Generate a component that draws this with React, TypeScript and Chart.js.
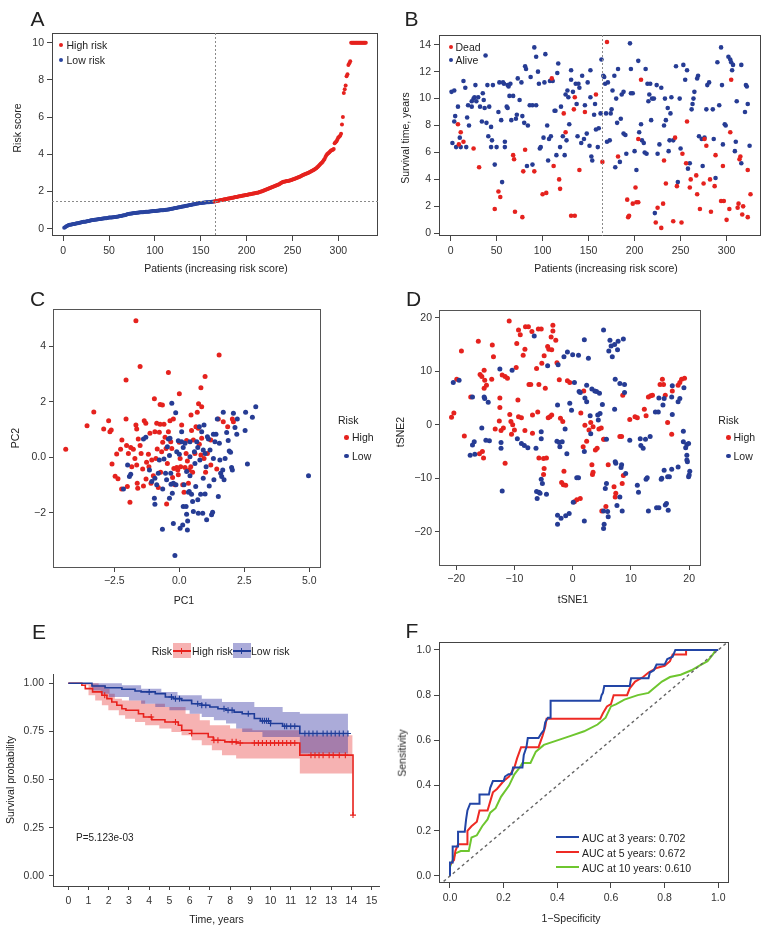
import React, { useEffect, useRef } from "react";
import { Chart, registerables } from "chart.js";
Chart.register(...registerables);

const FONT = "'Liberation Sans', Arial, Helvetica, sans-serif";
const TXT = "#333";
const AXIS = "#444";
const RED = "#E5221E";
const BLUE = "#263C94";

// ---------------- Panel A: risk score per patient (sorted) ----------------
const lowRiskScores = [
  0.05, 0.08, 0.12, 0.15, 0.18, 0.2, 0.21, 0.22, 0.23, 0.24,
  0.25, 0.26, 0.27, 0.28, 0.29, 0.3, 0.31, 0.32, 0.33, 0.35,
  0.36, 0.37, 0.38, 0.38, 0.39, 0.4, 0.41, 0.42, 0.43, 0.45,
  0.46, 0.47, 0.47, 0.48, 0.49, 0.5, 0.5, 0.51, 0.52, 0.53,
  0.53, 0.54, 0.55, 0.55, 0.56, 0.57, 0.57, 0.58, 0.59, 0.6,
  0.6, 0.61, 0.61, 0.62, 0.62, 0.63, 0.63, 0.64, 0.65, 0.66,
  0.67, 0.68, 0.69, 0.7, 0.71, 0.72, 0.73, 0.74, 0.76, 0.78,
  0.79, 0.8, 0.81, 0.82, 0.82, 0.83, 0.84, 0.85, 0.85, 0.86,
  0.86, 0.87, 0.87, 0.88, 0.88, 0.89, 0.89, 0.9, 0.9, 0.91,
  0.91, 0.92, 0.92, 0.93, 0.93, 0.94, 0.94, 0.95, 0.95, 0.96,
  0.96, 0.97, 0.97, 0.98, 0.98, 0.99, 0.99, 1.0, 1.0, 1.01,
  1.01, 1.02, 1.02, 1.03, 1.04, 1.05, 1.06, 1.07, 1.08, 1.09,
  1.1, 1.11, 1.12, 1.13, 1.14, 1.15, 1.16, 1.17, 1.18, 1.19,
  1.2, 1.21, 1.22, 1.23, 1.24, 1.25, 1.26, 1.27, 1.28, 1.29,
  1.3, 1.31, 1.32, 1.33, 1.34, 1.35, 1.36, 1.37, 1.38, 1.39,
  1.39, 1.4, 1.4, 1.41, 1.41, 1.42, 1.42, 1.43, 1.43, 1.44,
  1.44, 1.45, 1.45, 1.46,
];
const highRiskScores = [
  1.47, 1.48, 1.49, 1.5, 1.51, 1.52,
  1.53, 1.54, 1.55, 1.56, 1.57, 1.58, 1.59, 1.6, 1.61, 1.62,
  1.63, 1.64, 1.65, 1.66, 1.67, 1.68, 1.69, 1.7, 1.71, 1.72,
  1.73, 1.74, 1.75, 1.76, 1.77, 1.78, 1.79, 1.8, 1.81, 1.82,
  1.83, 1.84, 1.85, 1.86, 1.87, 1.88, 1.89, 1.9, 1.91, 1.92,
  1.93, 1.94, 1.95, 1.97, 1.99, 2.0, 2.02, 2.04, 2.06, 2.08,
  2.1, 2.12, 2.14, 2.16, 2.18, 2.2, 2.22, 2.24, 2.26, 2.28,
  2.3, 2.32, 2.34, 2.36, 2.38, 2.41, 2.44, 2.47, 2.5, 2.52,
  2.53, 2.54, 2.55, 2.56, 2.57, 2.58, 2.59, 2.6, 2.62, 2.64,
  2.66, 2.68, 2.7, 2.72, 2.74, 2.76, 2.78, 2.8, 2.82, 2.85,
  2.88, 2.9, 2.92, 2.94, 2.96, 2.98, 3.0, 3.02, 3.05, 3.08,
  3.1, 3.13, 3.16, 3.19, 3.22, 3.25, 3.3, 3.35, 3.4, 3.45,
  3.5, 3.55, 3.6, 3.68, 3.75, 3.85, 3.95, 4.02, 4.06, 4.1,
  4.15, 4.2, 4.22, 4.25, 4.28, 4.6, 4.65, 4.7, 4.8, 4.9,
  4.95, 5.0, 5.1, 5.6, 6.0, 7.3, 7.5, 7.7, 8.2, 8.3,
  8.8, 8.9, 9.0, 10, 10, 10,
  10, 10, 10, 10, 10, 10, 10, 10, 10, 10, 10, 10, 10, 10,
];
const riskCutoffPatient = 165;
const riskCutoffScore = 1.47;
const patientTicks = [0, 50, 100, 150, 200, 250, 300];
const riskTicks = [0, 2, 4, 6, 8, 10];

// ---------------- Panel B: survival time per patient ----------------
const alivePoints: [number, number][] = [
  [1, 10.5], [4, 10.6], [5, 8.7], [4, 8.3], [2, 6.7], [6, 6.4], [8, 9.4], [11, 6.4], [10, 7.1], [14, 11.3],
  [16, 10.8], [17, 6.4], [18, 8.6], [19, 9.5], [20, 8.0], [23, 9.4], [23, 9.8], [25, 10.0], [26, 10.1], [27, 11.0],
  [28, 9.8], [30, 10.1], [32, 9.4], [34, 8.3], [35, 10.4], [36, 9.9], [37, 9.3], [38, 13.2], [39, 8.2], [40, 11.0],
  [41, 7.2], [42, 9.4], [44, 6.4], [44, 7.9], [45, 6.9], [46, 11.0], [48, 5.1], [50, 6.4], [52, 9.0], [53, 11.2],
  [55, 8.4], [56, 3.8], [57, 11.2], [58, 11.1], [59, 6.4], [59, 6.8], [61, 9.4], [62, 11.0], [62, 9.3], [63, 10.9],
  [64, 10.2], [65, 11.1], [66, 8.4], [68, 10.2], [71, 8.5], [72, 8.8], [73, 11.5], [75, 9.9], [77, 11.2], [78, 8.7],
  [80, 8.2], [81, 12.4], [82, 12.2], [83, 5.0], [84, 8.0], [86, 9.5], [87, 11.6], [89, 9.5], [89, 5.1], [91, 13.8],
  [93, 13.1], [93, 9.5], [95, 12.0], [96, 11.1], [97, 6.3], [98, 6.4], [101, 7.1], [102, 11.2], [103, 13.3], [105, 8.0],
  [106, 5.4], [107, 7.0], [108, 11.3], [109, 7.2], [111, 11.3], [113, 9.1], [114, 9.1], [115, 5.8], [116, 11.9], [117, 12.6],
  [119, 6.4], [120, 9.4], [122, 7.2], [124, 5.8], [125, 10.3], [126, 6.9], [127, 10.6], [128, 10.1], [129, 8.1], [131, 11.4],
  [131, 12.1], [133, 10.5], [136, 11.1], [137, 9.6], [138, 7.2], [139, 11.1], [140, 10.8], [142, 6.7], [143, 11.7], [145, 7.0],
  [146, 9.5], [148, 7.4], [149, 11.2], [151, 6.5], [152, 10.1], [152, 12.1], [153, 5.7], [154, 5.4], [156, 8.8], [157, 9.6],
  [158, 7.7], [160, 6.4], [161, 7.8], [163, 8.9], [164, 12.9], [166, 11.7], [167, 11.6], [168, 11.1], [169, 8.9], [170, 6.8],
  [171, 11.2], [173, 6.9], [174, 8.9], [175, 9.2], [176, 10.6], [178, 11.7], [179, 4.9], [180, 10.0], [181, 8.2], [182, 12.2],
  [184, 5.3], [185, 8.5], [186, 10.3], [188, 7.4], [188, 10.5], [190, 7.3], [191, 5.9], [195, 14.1], [196, 12.2], [196, 10.4],
  [198, 10.4], [200, 6.1], [202, 4.7], [204, 12.8], [205, 7.5], [207, 8.1], [208, 6.9], [210, 6.7], [211, 6.0], [213, 5.9],
  [212, 12.2], [214, 11.1], [215, 9.8], [216, 10.3], [217, 11.1], [218, 8.4], [219, 10.0], [221, 10.0], [222, 1.5], [224, 11.0],
  [225, 5.9], [227, 6.6], [229, 10.8], [232, 8.0], [233, 10.0], [234, 8.4], [236, 9.3], [237, 6.1], [238, 6.9], [239, 8.9],
  [240, 10.1], [242, 6.9], [245, 12.4], [247, 3.8], [249, 10.0], [250, 6.3], [253, 12.5], [255, 11.4], [257, 12.1], [258, 4.8],
  [260, 5.2], [262, 9.2], [263, 9.6], [264, 10.0], [265, 10.5], [268, 11.5], [269, 11.7], [270, 7.2], [273, 7.0], [274, 5.0],
  [276, 7.1], [278, 9.2], [279, 11.0], [281, 11.2], [285, 9.2], [286, 7.0], [288, 4.1], [290, 12.7], [292, 9.5], [294, 13.8],
  [295, 11.0], [296, 6.6], [298, 8.1], [299, 8.0], [302, 13.1], [304, 12.9], [305, 12.7], [306, 12.1], [307, 12.5], [309, 6.1],
  [310, 6.8], [311, 9.8], [316, 12.5], [316, 5.2], [320, 9.0], [321, 11.0], [322, 10.9], [323, 9.6], [325, 6.5],
];
const deadPoints: [number, number][] = [
  [8, 8.1], [9, 6.6], [11, 7.5], [14, 6.8], [25, 6.3], [31, 4.9], [48, 1.8], [52, 3.1], [54, 2.7], [68, 5.8],
  [69, 5.5], [70, 1.6], [78, 1.2], [79, 4.6], [81, 6.2], [91, 4.6], [100, 2.9], [104, 3.0], [110, 11.5], [112, 5.0],
  [118, 4.0], [119, 3.3], [123, 8.9], [125, 7.5], [131, 1.3], [134, 9.2], [135, 1.3], [135, 10.1], [140, 4.7], [146, 9.0],
  [158, 10.3], [165, 5.3], [170, 14.2], [182, 5.7], [192, 2.5], [193, 1.2], [194, 1.3], [198, 2.2], [201, 3.4], [202, 2.3],
  [204, 2.3], [204, 7.0], [207, 11.4], [223, 0.8], [225, 1.9], [229, 0.4], [231, 2.2], [232, 5.4], [234, 3.7], [242, 0.9],
  [244, 7.1], [246, 3.5], [251, 0.8], [252, 5.9], [256, 5.2], [257, 8.3], [260, 3.4], [261, 4.0], [267, 4.3], [268, 2.9],
  [271, 1.8], [275, 3.7], [276, 7.0], [278, 6.5], [282, 4.0], [283, 1.6], [287, 3.5], [288, 5.8], [294, 2.4], [296, 5.0],
  [297, 2.4], [300, 1.0], [303, 1.8], [304, 7.5], [305, 11.4], [312, 1.9], [313, 2.2], [314, 5.5], [315, 5.7], [317, 1.4],
  [318, 2.0], [323, 1.2], [323, 4.7], [326, 2.9],
];
const survTimeTicks = [0, 2, 4, 6, 8, 10, 12, 14];

// ---------------- Panel C: PCA ----------------
const pcaHigh: [number, number][] = [
  [-1.67, 4.91], [1.53, 3.68], [-1.51, 3.26], [-0.42, 3.05], [0.99, 2.9], [-2.05, 2.78], [0.83, 2.5], [0, 2.28], [-0.96, 2.1], [-0.74, 1.9],
  [-0.65, 1.88], [0.74, 1.92], [0.86, 1.82], [-3.29, 1.63], [-4.37, 0.29], [-3.55, 1.13], [-2.72, 1.31], [-2.91, 1.02], [-2.67, 0.92], [-2.62, 0.98],
  [-2.05, 1.38], [-2.59, -0.24], [-2.47, -0.68], [-2.36, -0.77], [-2.26, 0.29], [-2.41, 0.12], [-2.21, 0.62], [-2.03, 0.42], [-1.96, 0.14], [-1.87, 0.35],
  [-1.77, 0.29], [-1.71, -0.04], [-1.83, -0.34], [-2.0, -1.05], [-1.9, -1.62], [-2.22, -1.14], [-1.64, -0.28], [-1.62, -0.93], [-1.6, -1.11], [-1.64, 1.02],
  [-1.67, 1.16], [-1.58, 0.66], [-1.51, 0.42], [-1.47, 0.14], [-1.41, -0.42], [-1.38, -1.03], [-1.35, 1.31], [-1.29, 1.22], [-1.28, -0.78], [-1.26, -0.18],
  [-1.19, 0.11], [-1.17, -0.34], [-1.13, 0.86], [-1.09, -0.93], [-1.06, -0.1], [-1.0, -0.66], [-0.94, 0.92], [-0.9, -0.04], [-0.87, 1.22], [-0.85, 0.3],
  [-0.81, -1.09], [-0.77, 0.9], [-0.74, 1.19], [-0.72, -0.54], [-0.68, 0.2], [-0.64, 0.54], [-0.59, 1.19], [-0.55, 0.72], [-0.51, 0.32], [-0.49, -1.68],
  [-0.46, -0.22], [-0.42, 0.92], [-0.36, 1.31], [-0.33, 0.56], [-0.29, 0.32], [-0.26, -0.73], [-0.23, 1.38], [-0.21, -0.4], [-0.17, -0.99], [-0.1, -0.37],
  [-0.06, -0.46], [-0.04, -0.63], [0, 0.54], [0.03, -0.04], [0.05, -0.34], [0.09, 1.16], [0.13, -0.99], [0.18, -1.26], [0.22, -0.37], [0.26, 0.14],
  [0.28, 0.6], [0.31, -0.13], [0.35, -0.93], [0.38, -0.46], [0.44, -0.34], [0.45, 1.52], [0.47, 0.96], [0.51, -0.54], [0.54, 0.62], [0.6, 0.14],
  [0.64, 1.1], [0.69, 1.62], [0.73, 1.04], [0.77, 0.47], [0.83, 0.08], [0.86, 0.68], [0.95, -0.04], [1.01, -0.54], [1.08, 0.14], [1.21, -0.28],
  [1.21, 0.62], [1.5, 1.38], [1.69, 1.28], [1.86, 1.1], [2.04, 1.38], [2.08, 1.28], [1.44, -0.42],
];
const pcaLow: [number, number][] = [
  [-0.29, 1.94], [-0.14, 1.6], [-1.38, 0.66], [-1.29, 0.72], [-0.94, -0.75], [-0.96, -1.47], [-0.94, -1.69], [-0.64, -1.14], [-0.65, -2.59], [-0.59, -0.06],
  [-0.53, -0.57], [-0.46, 0.38], [-0.42, 0.66], [-0.38, -1.47], [-0.36, 0.68], [-0.33, -0.57], [-0.32, -0.97], [-0.27, -1.29], [-0.23, -2.38], [-0.23, -0.93],
  [-0.17, -3.53], [-0.13, -0.99], [-0.1, 0.2], [-0.04, 0.59], [0, 0.11], [0.03, -2.55], [0.09, 0.92], [0.13, -2.43], [0.15, -1.77], [0.18, -0.99],
  [0.22, 0.5], [0.26, -1.77], [0.28, -2.05], [0.31, -2.61], [0.32, -2.29], [0.35, -1.26], [0.38, -1.23], [0.41, 0.02], [0.41, 0.56], [0.47, -1.33],
  [0.51, -1.59], [0.54, -1.95], [0.58, 0.2], [0.6, -0.22], [0.63, -1.05], [0.67, 0.56], [0.71, -1.53], [0.73, -2.01], [0.77, 1.1], [0.79, -0.1],
  [0.82, -1.33], [0.86, 0.92], [0.9, -2.01], [0.92, -0.75], [0.95, 1.16], [0.99, -1.32], [1.03, -0.34], [1.05, -2.25], [1.08, 0.74], [1.12, 0.66],
  [1.15, -1.03], [1.18, 0.26], [1.24, -2.07], [1.28, -1.98], [1.31, -0.04], [1.33, -0.81], [1.37, 0.56], [1.41, 0.83], [1.46, 1.38], [1.5, -1.41],
  [1.54, 0.5], [1.59, -0.57], [1.63, -0.69], [1.67, -0.46], [1.69, 1.62], [1.72, -0.81], [1.76, -0.04], [1.82, 0.89], [1.88, 0.6], [1.92, 0.23],
  [1.97, 0.18], [2.01, -0.37], [2.04, -0.46], [2.08, 1.58], [2.14, 1.07], [2.21, 0.83], [2.23, 1.38], [2.53, 0.96], [2.55, 1.62], [2.62, -0.24],
  [2.81, 1.44], [2.94, 1.82], [4.97, -0.66], [-1.15, -0.46], [-1.06, -0.87], [-0.87, -0.99], [-0.81, -0.57], [-0.77, -0.1], [-1.87, -0.61], [-1.92, -0.69],
  [-2.15, -1.14], [-1.99, -0.28], [-0.49, -0.81], [-0.38, 0.06], [0.09, 0.56], [0.15, 0.35], [0.28, -0.51], [0.41, -0.66], [0.71, 0.35], [0.92, 0.26],
  [0.99, 0.14], [1.31, 0.83], [1.56, -0.1],
];
const pc1Ticks = [-2.5, 0, 2.5, 5];
const pc2Ticks = [-2, 0, 2, 4];

// ---------------- Panel D: t-SNE ----------------
const tsneHigh: [number, number][] = [
  [-19.1, 13.8], [-20.8, 1.4], [-20.4, 2.2], [-19.9, 8.5], [-18.6, -2.1], [-17.5, 5.2], [-16.2, 15.6], [-15.9, 9.4], [-15.6, 9.0], [-15.2, 10.2],
  [-15.1, 8.3], [-15.2, 6.8], [-14.8, 7.4], [-15.5, -5.0], [-15.3, -6.2], [-16.0, -5.4], [-13.8, 14.9], [-13.6, 12.7], [-13.9, 8.5], [-13.3, -0.8],
  [-12.5, 5.0], [-12.5, 3.2], [-12.6, 0.7], [-12.3, -1.1], [-12.1, 9.3], [-11.9, -0.6], [-11.6, 9.0], [-11.6, -7.2], [-11.2, 8.7], [-10.9, 19.4],
  [-10.8, 1.9], [-10.6, 0.6], [-10.5, -1.8], [-10.3, 0.0], [-10.0, -1.0], [-9.7, 10.7], [-9.6, 15.2], [-9.4, 4.6], [-9.3, 17.7], [-9.0, 16.8],
  [-9.3, 1.5], [-8.8, 1.3], [-8.5, 13.0], [-8.2, 14.1], [-8.2, -1.1], [-8.1, 18.3], [-7.6, 18.3], [-7.5, 7.5], [-7.2, 7.5], [-7.0, 17.4],
  [-6.9, -1.6], [-6.9, 1.8], [-6.2, 10.5], [-6.0, 2.4], [-5.9, 17.9], [-5.8, 7.5], [-5.8, -6.2], [-5.4, 17.9], [-5.3, 11.5], [-5.0, -6.3],
  [-5.0, -9.3], [-4.9, -8.2], [-4.9, 12.9], [-4.7, 6.8], [-4.5, -6.2], [-4.3, 14.6], [-4.1, 14.1], [-4.2, 1.3], [-3.9, 1.5], [-3.7, 16.4],
  [-3.6, 1.8], [-3.4, 18.6], [-3.4, 17.5], [-3.6, 14.0], [-2.9, 15.8], [-2.7, 11.6], [-2.3, 8.4], [-2.1, 1.2], [-1.9, -10.8], [-1.7, 0.6],
  [-1.6, -11.2], [-1.5, -8.7], [-1.2, -11.3], [-0.9, 8.2], [-0.5, 7.9], [0.3, -14.4], [0.7, -14.0], [1.3, -13.8], [1.4, 2.2], [1.8, -4.1],
  [1.9, 6.3], [2.1, -0.1], [2.4, -3.1], [2.8, -1.0], [3.1, 0.4], [3.3, -7.5], [3.4, -9.3], [3.5, -8.9], [3.5, -0.4], [3.9, -4.7],
  [4.2, -4.4], [4.5, -0.8], [4.9, -0.6], [5.0, -16.1], [5.3, -2.7], [5.4, -2.7], [5.7, -15.3], [6.1, -7.5], [7.1, -11.6], [7.3, -13.5],
  [7.4, -12.8], [8.1, -2.2], [8.4, -2.2], [8.5, -11.0], [8.7, -9.5], [8.6, 5.5], [9.8, 1.0], [10.7, 1.5], [11.1, 1.3], [12.3, 2.9],
  [12.6, 1.7], [13.0, 5.2], [13.4, 5.4], [13.7, 5.5], [15.0, 7.5], [15.4, 8.5], [15.6, 7.5], [15.9, 5.5], [16.3, 0.4], [17.1, 6.3],
  [17.0, -1.8], [18.1, 7.4], [18.4, 7.9], [18.7, 8.5], [19.2, 8.7],
];
const tsneLow: [number, number][] = [
  [-20.5, 7.9], [-19.5, 8.3], [-17.2, 5.2], [-17.6, -5.7], [-16.9, -3.2], [-17.2, -3.8], [-16.8, -5.5], [-15.6, -0.6], [-15.2, 5.2], [-15.1, 4.9],
  [-14.9, -2.9], [-14.5, 4.2], [-14.3, -3.0], [-12.5, 10.4], [-12.3, -3.3], [-12.3, -4.4], [-12.1, -12.4], [-10.4, 10.2], [-9.5, -2.6], [-8.8, -3.5],
  [-8.3, -3.9], [-7.7, -4.3], [-6.6, 16.6], [-6.3, -4.4], [-6.2, -12.5], [-6.1, -13.8], [-5.8, -12.6], [-5.6, -12.8], [-5.4, -1.3], [-5.4, -2.6],
  [-5.4, -10.2], [-5.2, -11.0], [-4.5, -13.0], [-4.3, 11.0], [-2.7, -3.1], [-2.6, 3.7], [-2.5, 11.2], [-2.6, -18.6], [-2.6, -16.9], [-2.3, -3.3],
  [-2.2, -4.1], [-2.0, -17.5], [-1.8, -3.2], [-1.5, 12.7], [-1.3, -0.8], [-1.2, -17.0], [-1.0, -5.4], [-0.6, -16.6], [-0.9, 13.6], [-0.5, 4.0],
  [-0.2, 2.7], [0, 13.1], [0.1, -14.5], [0.3, 7.9], [0.7, -9.9], [1.0, 13.0], [1.0, -9.9], [1.1, 6.2], [1.3, 6.0], [2.0, 15.9],
  [2.0, -5.0], [2.1, 5.0], [2.0, -18.0], [2.4, 4.3], [2.4, 7.4], [2.7, 12.4], [3.0, 1.7], [3.1, -1.7], [3.3, 6.7], [3.8, 6.3],
  [4.1, 6.2], [4.3, 1.8], [4.4, 0.9], [4.7, 2.1], [4.6, 5.9], [5.1, 3.8], [5.3, 17.7], [5.3, -16.1], [5.3, -19.4], [5.4, -18.6],
  [5.6, -11.9], [5.8, -11.0], [5.8, -2.7], [6.0, -16.2], [6.1, -17.2], [6.2, 13.8], [6.4, 15.8], [6.6, 14.7], [6.8, 12.7], [7.2, 15.0],
  [7.2, 2.9], [7.3, 8.5], [7.3, -6.9], [7.4, -7.2], [7.6, -15.1], [7.7, 14.0], [7.8, 15.6], [8.1, 7.7], [8.1, -13.5], [8.3, -8.0],
  [8.4, -7.5], [8.5, -16.1], [8.7, 16.0], [8.9, 6.0], [8.9, 7.5], [9.1, -9.1], [9.8, -2.9], [11.1, -11.3], [11.3, -12.6], [11.6, -2.6],
  [11.7, -3.9], [12.1, -4.4], [12.5, -2.7], [12.6, -10.2], [12.8, -9.9], [13.0, -16.1], [13.3, -2.2], [14.2, 2.4], [14.7, 2.4], [14.4, -15.5],
  [14.8, -15.5], [14.8, 5.0], [15.2, -10.2], [15.3, -10.0], [15.5, 3.7], [15.7, 4.9], [15.7, -8.5], [15.9, -15.0], [16.1, -14.7], [16.3, -9.7],
  [16.4, -16.0], [16.6, -9.7], [17.0, -8.3], [17.1, 1.9], [17.0, 5.2], [17.1, 7.3], [18.1, 4.3], [18.4, 4.9], [19.0, -1.2], [19.0, -3.2],
  [19.1, 6.9], [19.4, -4.3], [19.6, -3.7], [19.6, -5.7], [19.6, -6.6], [19.7, -6.9], [19.9, -3.5], [19.9, -9.7], [20.0, -9.4], [20.1, -8.7],
  [18.1, -7.9],
];
const tsneTicks = [-20, -10, 0, 10, 20];

// ---------------- Panel E: Kaplan-Meier ----------------
const kmHigh: [number, number][] = [
  [0, 1.0], [0.67, 0.99], [0.84, 0.972], [1.2, 0.955], [1.66, 0.938], [1.91, 0.92], [2.15, 0.903], [2.4, 0.886], [2.65, 0.868],
  [2.85, 0.86], [3.47, 0.842], [3.72, 0.825], [4.13, 0.811], [4.78, 0.799], [5.44, 0.782], [5.61, 0.756], [6.1, 0.739],
  [6.92, 0.721], [7.17, 0.704], [7.74, 0.696], [8.32, 0.69], [11.45, 0.627], [14.08, 0.316],
];
const kmLow: [number, number][] = [
  [0, 1.0], [1.17, 0.986], [1.82, 0.977], [2.65, 0.969], [3.3, 0.96], [3.6, 0.955], [4.3, 0.946], [4.8, 0.929], [5.2, 0.92],
  [5.6, 0.911], [6.1, 0.894], [6.6, 0.886], [7.0, 0.877], [7.4, 0.868], [7.8, 0.86], [8.2, 0.85], [8.6, 0.842], [9.2, 0.817],
  [9.5, 0.805], [10.0, 0.791], [10.6, 0.777], [11.45, 0.739], [13.83, 0.739],
];
const kmHighUpper: [number, number][] = [
  [0, 1.0], [1.5, 0.99], [1.82, 0.972], [2.04, 0.946], [2.3, 0.92], [2.65, 0.911], [3.8, 0.894], [4.78, 0.877], [5.8, 0.842],
  [6.5, 0.808], [7.0, 0.782], [8.0, 0.765], [9.1, 0.756], [11.45, 0.73], [14.05, 0.73],
];
const kmHighLower: [number, number][] = [
  [0, 1.0], [0.84, 0.99], [1.0, 0.938], [1.33, 0.911], [1.66, 0.886], [1.98, 0.86], [2.5, 0.834], [2.81, 0.816], [3.3, 0.799],
  [3.8, 0.782], [4.5, 0.765], [5.1, 0.747], [5.6, 0.73], [6.1, 0.704], [6.6, 0.678], [7.1, 0.653], [7.6, 0.627], [8.3, 0.609],
  [11.45, 0.532], [14.05, 0.532],
];
const kmLowUpper: [number, number][] = [
  [0, 1.0], [2.65, 0.99], [3.6, 0.972], [4.6, 0.955], [5.4, 0.938], [6.6, 0.92], [7.6, 0.903], [9.2, 0.877], [10.6, 0.851],
  [11.45, 0.842], [13.83, 0.842],
];
const kmLowLower: [number, number][] = [
  [0, 1.0], [1.17, 0.963], [1.6, 0.946], [2.0, 0.929], [3.0, 0.911], [3.6, 0.894], [4.3, 0.877], [5.0, 0.86], [6.0, 0.842],
  [6.6, 0.825], [7.2, 0.808], [7.8, 0.791], [8.3, 0.765], [8.6, 0.747], [9.6, 0.721], [11.45, 0.635], [13.83, 0.635],
];
const censorHigh = [1.8, 4.1, 5.3, 6.1, 7.2, 7.4, 8.1, 8.3, 8.5, 9.2, 9.4, 9.6, 9.8, 10.0, 10.2, 10.4, 10.6, 10.8, 11.0, 11.2,
  12.0, 12.2, 12.4, 12.6, 12.9, 13.1, 13.4, 13.7, 14.08];
const censorLow = [4.0, 5.1, 5.3, 5.5, 6.4, 6.6, 6.8, 7.7, 7.9, 8.1, 8.9, 9.6, 9.7, 9.8, 9.9, 10.0, 10.7, 10.8, 11.0, 11.2,
  11.7, 11.9, 12.1, 12.3, 12.6, 12.8, 13.0, 13.2, 13.4, 13.6, 13.83];
const timeTicks = [0, 1, 2, 3, 4, 5, 6, 7, 8, 9, 10, 11, 12, 13, 14, 15];
const probTicks = [0, 0.25, 0.5, 0.75, 1.0];
const pValueLabel = "P=5.123e-03";

// ---------------- Panel F: time-dependent ROC ----------------
const roc3: [number, number][] = [
  [0, 0], [0, 0.06], [0.01, 0.06], [0.01, 0.13], [0.03, 0.13], [0.03, 0.196], [0.055, 0.196], [0.06, 0.25], [0.065, 0.29],
  [0.075, 0.32], [0.11, 0.32], [0.11, 0.36], [0.145, 0.36], [0.15, 0.39], [0.16, 0.42], [0.2, 0.42], [0.205, 0.44], [0.218, 0.45],
  [0.23, 0.45], [0.235, 0.48], [0.27, 0.48], [0.275, 0.535], [0.285, 0.57], [0.29, 0.61], [0.33, 0.61], [0.34, 0.63], [0.35, 0.645],
  [0.355, 0.68], [0.365, 0.7], [0.375, 0.7], [0.375, 0.775], [0.56, 0.775], [0.565, 0.8], [0.57, 0.81], [0.575, 0.84], [0.67, 0.84],
  [0.675, 0.875], [0.74, 0.875], [0.745, 0.9], [0.76, 0.91], [0.77, 0.935], [0.8, 0.935], [0.81, 0.96], [0.83, 0.97], [0.84, 1.0], [1.0, 1.0],
];
const roc5: [number, number][] = [
  [0, 0], [0, 0.05], [0.015, 0.07], [0.02, 0.11], [0.03, 0.14], [0.065, 0.14], [0.065, 0.2], [0.08, 0.22], [0.1, 0.24], [0.11, 0.29],
  [0.14, 0.29], [0.15, 0.33], [0.16, 0.37], [0.175, 0.385], [0.2, 0.42], [0.22, 0.44], [0.24, 0.48], [0.25, 0.52], [0.265, 0.57],
  [0.33, 0.57], [0.345, 0.62], [0.355, 0.66], [0.36, 0.695], [0.56, 0.695], [0.57, 0.72], [0.585, 0.75], [0.6, 0.76], [0.61, 0.8],
  [0.66, 0.8], [0.67, 0.83], [0.69, 0.86], [0.72, 0.88], [0.74, 0.9], [0.77, 0.92], [0.8, 0.93], [0.82, 0.95], [0.83, 0.98],
  [0.88, 0.98], [0.88, 1.0], [0.98, 1.0],
];
const roc10: [number, number][] = [
  [0, 0], [0, 0.04], [0.02, 0.1], [0.04, 0.11], [0.07, 0.11], [0.08, 0.17], [0.1, 0.18], [0.12, 0.22], [0.14, 0.25], [0.15, 0.28],
  [0.17, 0.3], [0.19, 0.35], [0.22, 0.4], [0.24, 0.45], [0.26, 0.48], [0.27, 0.5], [0.3, 0.5], [0.32, 0.55], [0.35, 0.58], [0.4, 0.6],
  [0.45, 0.62], [0.5, 0.64], [0.55, 0.67], [0.58, 0.7], [0.6, 0.75], [0.62, 0.76], [0.65, 0.78], [0.7, 0.8], [0.74, 0.81], [0.76, 0.83],
  [0.79, 0.86], [0.82, 0.88], [0.86, 0.89], [0.9, 0.91], [0.93, 0.93], [0.96, 0.95], [0.98, 0.98], [0.99, 1.0],
];
const rocLabels = ["AUC at 3 years: 0.702", "AUC at 5 years: 0.672", "AUC at 10 years: 0.610"];
const rocColors = ["#2245A6", "#EE2A24", "#6EC62F"];
const rocTicks = [0, 0.2, 0.4, 0.6, 0.8, 1.0];

// ---------------- helpers ----------------
const minus = (s: string) => s.replace("-", "\u2212");
const pts = (arr: [number, number][]) => arr.map(([x, y]) => ({ x, y }));

function stepCorners(curve: [number, number][]): [number, number][] {
  const out: [number, number][] = [];
  curve.forEach(([t, v], i) => {
    if (i > 0) out.push([t, curve[i - 1][1]]);
    out.push([t, v]);
  });
  return out;
}
function stepAt(curve: [number, number][], t: number) {
  let v = curve[0][1];
  for (const [ti, vi] of curve) {
    if (ti <= t) v = vi;
    else break;
  }
  return v;
}

function linScale(
  pos: "x" | "y",
  min: number,
  max: number,
  vals: number[],
  fmt: (v: number) => string,
  fit: number,
  o: { pad?: number; tickLen?: number; border?: boolean } = {}
) {
  return {
    type: "linear",
    position: pos === "x" ? "bottom" : "left",
    min,
    max,
    afterBuildTicks: (s: any) => {
      s.ticks = vals.map((v) => ({ value: v }));
    },
    afterFit: (s: any) => {
      if (pos === "x") s.height = fit;
      else s.width = fit;
    },
    ticks: {
      autoSkip: false,
      maxRotation: 0,
      minRotation: 0,
      padding: o.pad ?? 3,
      color: TXT,
      font: { family: FONT, size: 10.5 },
      callback: (v: any) => fmt(Number(v)),
    },
    grid: {
      display: true,
      drawOnChartArea: false,
      drawTicks: true,
      tickLength: o.tickLen ?? 5,
      color: AXIS,
      lineWidth: 1,
    },
    border: { display: !!o.border, color: AXIS, width: 1 },
  };
}

const framePlugin = {
  id: "frame",
  afterDatasetsDraw(chart: any, _a: any, opts: any) {
    if (!opts || !opts.show) return;
    const { left, top, right, bottom } = chart.chartArea;
    const ctx = chart.ctx;
    ctx.save();
    ctx.strokeStyle = opts.color || "#444";
    ctx.lineWidth = 1;
    ctx.strokeRect(Math.round(left) + 0.5, Math.round(top) + 0.5, Math.round(right - left) - 1, Math.round(bottom - top) - 1);
    ctx.restore();
  },
};

const refLinePlugin = {
  id: "refLines",
  afterDatasetsDraw(chart: any, _a: any, opts: any) {
    if (!opts) return;
    const xs: number[] = opts.xs || [];
    const ys: number[] = opts.ys || [];
    const { left, right, top, bottom } = chart.chartArea;
    const sx = chart.scales.x;
    const sy = chart.scales.y;
    const ctx = chart.ctx;
    ctx.save();
    ctx.beginPath();
    ctx.rect(left, top, right - left, bottom - top);
    ctx.clip();
    ctx.strokeStyle = opts.color || "#888";
    ctx.lineWidth = opts.width || 1;
    ctx.setLineDash(opts.dash || [2, 2]);
    xs.forEach((v) => {
      const p = Math.round(sx.getPixelForValue(v)) + 0.5;
      ctx.beginPath();
      ctx.moveTo(p, top);
      ctx.lineTo(p, bottom);
      ctx.stroke();
    });
    ys.forEach((v) => {
      const p = Math.round(sy.getPixelForValue(v)) + 0.5;
      ctx.beginPath();
      ctx.moveTo(left, p);
      ctx.lineTo(right, p);
      ctx.stroke();
    });
    if (opts.diag) {
      const lo = Math.min(sx.min, sy.min);
      const hi = Math.max(sx.max, sy.max);
      ctx.beginPath();
      ctx.moveTo(sx.getPixelForValue(lo), sy.getPixelForValue(lo));
      ctx.lineTo(sx.getPixelForValue(hi), sy.getPixelForValue(hi));
      ctx.stroke();
    }
    ctx.restore();
  },
};

const bandPlugin = {
  id: "bands",
  beforeDatasetsDraw(chart: any, _a: any, opts: any) {
    if (!opts || !opts.bands) return;
    const sx = chart.scales.x;
    const sy = chart.scales.y;
    const { left, right, top, bottom } = chart.chartArea;
    const ctx = chart.ctx;
    ctx.save();
    ctx.beginPath();
    ctx.rect(left, top, right - left, bottom - top);
    ctx.clip();
    for (const b of opts.bands) {
      const up = stepCorners(b.upper);
      const lo = stepCorners(b.lower).reverse();
      ctx.beginPath();
      up.forEach(([t, v], i) => {
        const px = sx.getPixelForValue(t);
        const py = sy.getPixelForValue(v);
        if (i === 0) ctx.moveTo(px, py);
        else ctx.lineTo(px, py);
      });
      lo.forEach(([t, v]) => ctx.lineTo(sx.getPixelForValue(t), sy.getPixelForValue(v)));
      ctx.closePath();
      ctx.fillStyle = b.color;
      ctx.fill();
    }
    ctx.restore();
  },
};

function baseOptions(padding: any, scales: any, plugins: any = {}) {
  return {
    animation: false,
    responsive: false,
    devicePixelRatio: 1,
    events: [],
    layout: { padding },
    plugins: { legend: { display: false }, tooltip: { enabled: false }, ...plugins },
    scales,
  };
}

// ---------------- chart configs ----------------
function configA() {
  return {
    type: "scatter",
    data: {
      datasets: [
        { data: highRiskScores.map((y, i) => ({ x: lowRiskScores.length + 1 + i, y })), backgroundColor: RED, borderWidth: 0, pointRadius: 2 },
        { data: lowRiskScores.map((y, i) => ({ x: i + 1, y })), backgroundColor: "#2A45A0", borderWidth: 0, pointRadius: 2 },
      ],
    },
    options: baseOptions(
      { top: 33, right: 7, left: 0, bottom: 0 },
      {
        x: linScale("x", -12.3, 343.3, patientTicks, (v) => String(v), 44, { pad: 4 }),
        y: linScale("y", -0.39, 10.52, riskTicks, (v) => String(v), 52, { pad: 3 }),
      },
      { frame: { show: true }, refLines: { xs: [riskCutoffPatient], ys: [riskCutoffScore], color: "#8a8a8a", dash: [2, 2] } }
    ),
    plugins: [framePlugin, refLinePlugin],
  };
}

function configB() {
  return {
    type: "scatter",
    data: {
      datasets: [
        { data: pts(deadPoints), backgroundColor: RED, borderWidth: 0, pointRadius: 2.3 },
        { data: pts(alivePoints), backgroundColor: BLUE, borderWidth: 0, pointRadius: 2.3 },
      ],
    },
    options: baseOptions(
      { top: 35, right: 2, left: 0, bottom: 0 },
      {
        x: linScale("x", -12.6, 337.4, patientTicks, (v) => String(v), 44, { pad: 4 }),
        y: linScale("y", -0.2, 14.72, survTimeTicks, (v) => String(v), 54, { pad: 3 }),
      },
      { frame: { show: true }, refLines: { xs: [riskCutoffPatient], ys: [], color: "#8a8a8a", dash: [2, 2] } }
    ),
    plugins: [framePlugin, refLinePlugin],
  };
}

function configC() {
  return {
    type: "scatter",
    data: {
      datasets: [
        { data: pts(pcaLow), backgroundColor: BLUE, borderWidth: 0, pointRadius: 2.5 },
        { data: pts(pcaHigh), backgroundColor: RED, borderWidth: 0, pointRadius: 2.5 },
      ],
    },
    options: baseOptions(
      { top: 24, right: 64, left: 0, bottom: 0 },
      {
        x: linScale("x", -4.86, 5.45, pc1Ticks, (v) => minus(v.toFixed(1)), 37, { pad: 3, tickLen: 4 }),
        y: linScale("y", -3.98, 5.33, pc2Ticks, (v) => (v === 0 ? "0.0" : minus(String(v))), 53, { pad: 3, tickLen: 4 }),
      },
      { frame: { show: true, color: "#555" } }
    ),
    plugins: [framePlugin],
  };
}

function configD() {
  return {
    type: "scatter",
    data: {
      datasets: [
        { data: pts(tsneLow), backgroundColor: BLUE, borderWidth: 0, pointRadius: 2.5 },
        { data: pts(tsneHigh), backgroundColor: RED, borderWidth: 0, pointRadius: 2.5 },
      ],
    },
    options: baseOptions(
      { top: 25, right: 64, left: 0, bottom: 0 },
      {
        x: linScale("x", -22.95, 22.03, tsneTicks, (v) => minus(String(v)), 39, { pad: 3, tickLen: 4 }),
        y: linScale("y", -26.4, 21.44, tsneTicks, (v) => minus(String(v)), 54, { pad: 3, tickLen: 4 }),
      },
      { frame: { show: true, color: "#555" } }
    ),
    plugins: [framePlugin],
  };
}

function configE() {
  const line = (curve: [number, number][], color: string) => ({
    data: pts(stepCorners(curve)),
    showLine: true,
    borderColor: color,
    borderWidth: 1.6,
    pointRadius: 0,
    fill: false,
  });
  const censor = (times: number[], curve: [number, number][], color: string) => ({
    data: times.map((t) => ({ x: t, y: stepAt(curve, t) })),
    showLine: false,
    pointStyle: "cross",
    pointRadius: 3,
    borderColor: color,
    borderWidth: 1.1,
  });
  return {
    type: "scatter",
    data: {
      datasets: [
        censor(censorLow, kmLow, "#1F3C98"),
        line(kmLow, "#1F3C98"),
        censor(censorHigh, kmHigh, "#E8211C"),
        line(kmHigh, "#E8211C"),
      ],
    },
    options: baseOptions(
      { top: 64, right: 5, left: 0, bottom: 0 },
      {
        x: linScale("x", -0.757, 15.41, timeTicks, (v) => String(v), 41, { pad: 5, tickLen: 4, border: true }),
        y: linScale("y", -0.052, 1.048, probTicks, (v) => v.toFixed(2), 53, { pad: 5, tickLen: 4, border: true }),
      },
      {
        bands: {
          bands: [
            { upper: kmHighUpper, lower: kmHighLower, color: "rgba(232,62,62,0.40)" },
            { upper: kmLowUpper, lower: kmLowLower, color: "rgba(45,45,160,0.40)" },
          ],
        },
      }
    ),
    plugins: [bandPlugin],
  };
}

function configF() {
  const curve = (arr: [number, number][], color: string) => ({
    data: pts(arr),
    showLine: true,
    borderColor: color,
    borderWidth: 2,
    pointRadius: 0,
    borderJoinStyle: "miter",
    fill: false,
  });
  return {
    type: "scatter",
    data: {
      datasets: [curve(roc3, rocColors[0]), curve(roc5, rocColors[1]), curve(roc10, rocColors[2])],
    },
    options: baseOptions(
      { top: 32, right: 36, left: 0, bottom: 0 },
      {
        x: linScale("x", -0.041, 1.04, rocTicks, (v) => v.toFixed(1), 44, { pad: 4 }),
        y: linScale("y", -0.031, 1.035, rocTicks, (v) => v.toFixed(1), 54, { pad: 3 }),
      },
      { frame: { show: true }, refLines: { diag: true, color: "#666", dash: [3, 3], width: 1.4 } }
    ),
    plugins: [framePlugin, refLinePlugin],
  };
}

// ---------------- components ----------------
function ChartCanvas({ left, top, width, height, build }: any) {
  const ref = useRef<HTMLCanvasElement>(null);
  useEffect(() => {
    const chart = new Chart(ref.current as HTMLCanvasElement, build() as any);
    return () => chart.destroy();
  }, []);
  return <canvas ref={ref} width={width} height={height} style={{ position: "absolute", left, top, width, height }} />;
}

function T({ x, y, children, size = 10.5, anchor = "middle", rotate = false, color = "#222" }: any) {
  const tx = anchor === "start" ? "0" : anchor === "end" ? "-100%" : "-50%";
  return (
    <div
      style={{
        position: "absolute",
        left: x,
        top: y,
        transform: `translate(${tx}, -50%)${rotate ? " rotate(-90deg)" : ""}`,
        fontSize: size,
        lineHeight: 1,
        whiteSpace: "nowrap",
        fontFamily: FONT,
        color,
      }}
    >
      {children}
    </div>
  );
}

function Dot({ x, y, r = 2.3, color }: any) {
  return (
    <div
      style={{ position: "absolute", left: x - r, top: y - r, width: 2 * r, height: 2 * r, borderRadius: "50%", background: color }}
    />
  );
}

function KmKey({ x, fill, line }: any) {
  return (
    <div style={{ position: "absolute", left: x, top: 643, width: 18, height: 15, background: fill }}>
      <div style={{ position: "absolute", left: 0, top: 7, width: 18, height: 1.6, background: line }} />
      <div style={{ position: "absolute", left: 8.3, top: 4.8, width: 1.2, height: 6, background: line }} />
    </div>
  );
}

export default function App() {
  return (
    <div style={{ position: "absolute", left: 0, top: 0, width: 765, height: 927, background: "#fff", overflow: "hidden" }}>
      <ChartCanvas left={0} top={0} width={385} height={280} build={configA} />
      <ChartCanvas left={385} top={0} width={380} height={280} build={configB} />
      <ChartCanvas left={0} top={285} width={385} height={320} build={configC} />
      <ChartCanvas left={385} top={285} width={380} height={320} build={configD} />
      <ChartCanvas left={0} top={610} width={385} height={317} build={configE} />
      <ChartCanvas left={385} top={610} width={380} height={317} build={configF} />

      {/* Panel letters */}
      <T x={37.5} y={18} size={21}>A</T>
      <T x={411.5} y={18} size={21}>B</T>
      <T x={37.5} y={298} size={21}>C</T>
      <T x={413.5} y={298} size={21}>D</T>
      <T x={39} y={630.5} size={21}>E</T>
      <T x={412} y={630} size={21}>F</T>

      {/* Panel A */}
      <T x={216} y={268}>Patients (increasing risk score)</T>
      <T x={17} y={128} rotate>Risk score</T>
      <Dot x={61} y={45} r={2.2} color={RED} />
      <T x={66.5} y={45} anchor="start">High risk</T>
      <Dot x={61} y={60} r={2.2} color="#2A45A0" />
      <T x={66.5} y={60} anchor="start">Low risk</T>

      {/* Panel B */}
      <T x={606} y={268}>Patients (increasing risk score)</T>
      <T x={405} y={138} rotate>Survival time, years</T>
      <Dot x={450.7} y={46.7} r={2.2} color={RED} />
      <T x={455.5} y={46.7} anchor="start">Dead</T>
      <Dot x={450.7} y={60} r={2.2} color={BLUE} />
      <T x={455.5} y={60} anchor="start">Alive</T>

      {/* Panel C */}
      <T x={184} y={600}>PC1</T>
      <T x={15} y={438} rotate>PC2</T>
      <T x={338} y={419.5} anchor="start">Risk</T>
      <Dot x={346.7} y={437.3} color={RED} />
      <T x={352} y={437.3} anchor="start">High</T>
      <Dot x={346.7} y={456} color={BLUE} />
      <T x={352} y={456} anchor="start">Low</T>

      {/* Panel D */}
      <T x={573} y={598.5}>tSNE1</T>
      <T x={400} y={432} rotate>tSNE2</T>
      <T x={718.3} y={419.5} anchor="start">Risk</T>
      <Dot x={728.3} y={437.3} color={RED} />
      <T x={733.5} y={437.3} anchor="start">High</T>
      <Dot x={728.3} y={456} color={BLUE} />
      <T x={733.5} y={456} anchor="start">Low</T>

      {/* Panel E */}
      <T x={216.5} y={919}>Time, years</T>
      <T x={10} y={780} rotate>Survival probability</T>
      <T x={76} y={838} anchor="start" size={10}>{pValueLabel}</T>
      <T x={151.7} y={651} anchor="start">Risk</T>
      <KmKey x={172.7} fill="rgba(232,62,62,0.40)" line="#E8211C" />
      <T x={192} y={651} anchor="start">High risk</T>
      <KmKey x={232.8} fill="rgba(45,45,160,0.40)" line="#1F3C98" />
      <T x={251} y={651} anchor="start">Low risk</T>

      {/* Panel F */}
      <T x={571} y={918}>1{"\u2212"}Specificity</T>
      <T x={402} y={753} rotate>Sensitivity</T>
      {rocLabels.map((lab, i) => (
        <React.Fragment key={lab}>
          <div style={{ position: "absolute", left: 555.7, top: 837.3 + i * 15 - 1, width: 23.3, height: 2, background: rocColors[i] }} />
          <T x={582} y={838.3 + i * 15} anchor="start">{lab}</T>
        </React.Fragment>
      ))}
    </div>
  );
}
